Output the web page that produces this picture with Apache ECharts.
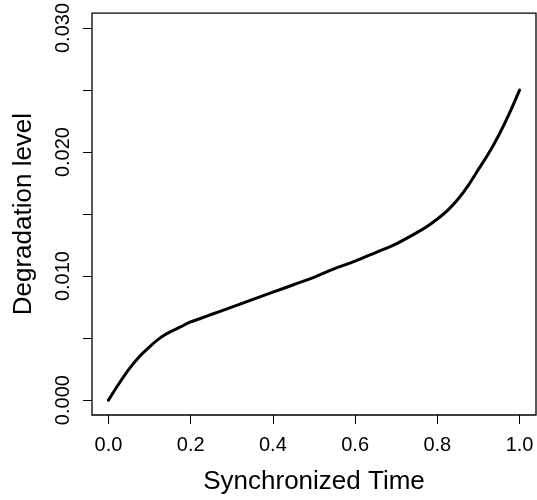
<!DOCTYPE html>
<html>
<head>
<meta charset="utf-8">
<script src="https://cdn.jsdelivr.net/npm/echarts@6/dist/echarts.min.js"></script>
<style>html,body{margin:0;padding:0;background:#fff}#c{width:537px;height:500px}</style>
</head>
<body>
<div id="c"></div>
<script>
const timeValues = [0, 0.025, 0.05, 0.075, 0.1, 0.125, 0.15, 0.175, 0.2, 0.225, 0.25, 0.3, 0.35, 0.4, 0.45, 0.5, 0.55, 0.6, 0.65, 0.7, 0.75, 0.775, 0.8, 0.825, 0.85, 0.875, 0.9, 0.925, 0.95, 0.975, 1.0];
const degradation = [0, 0.0013, 0.0025, 0.0035, 0.0043, 0.0050, 0.0055, 0.0059, 0.0063, 0.0066, 0.0069, 0.0075, 0.0081, 0.0087, 0.0093, 0.0099, 0.0106, 0.0112, 0.0119, 0.0126, 0.0135, 0.0140, 0.0146, 0.0153, 0.0162, 0.0173, 0.0186, 0.0199, 0.0214, 0.0231, 0.0250];
const xTicks = [0, 0.2, 0.4, 0.6, 0.8, 1.0];
const yTicks = [0, 0.005, 0.01, 0.015, 0.02, 0.025, 0.03];
const yLabels = [0, 0.01, 0.02, 0.03];
const xTitle = 'Synchronized Time';
const yTitle = 'Degradation level';

const font = 'Liberation Sans, Arial, sans-serif';
const chart = echarts.init(document.getElementById('c'), null, {renderer: 'canvas'});
chart.setOption({
  animation: false,
  backgroundColor: '#fff',
  grid: {left: 92, right: 1, top: 13, bottom: 85, show: true, borderColor: '#000', borderWidth: 1.3, backgroundColor: 'transparent'},
  xAxis: {
    type: 'value', min: -0.04, max: 1.04,
    name: xTitle, nameLocation: 'middle', nameGap: 54,
    nameTextStyle: {fontFamily: font, fontSize: 26, color: '#000'},
    axisLine: {show: false, onZero: false},
    splitLine: {show: false},
    axisTick: {show: true, inside: false, length: 9, customValues: xTicks, lineStyle: {color: '#000', width: 1}},
    axisLabel: {customValues: xTicks, margin: 20, fontFamily: font, fontSize: 20, color: '#000',
      formatter: v => v.toFixed(1)}
  },
  yAxis: {
    type: 'value', min: -0.0012, max: 0.0312,
    name: yTitle, nameLocation: 'middle', nameGap: 55, nameRotate: 90,
    nameTextStyle: {fontFamily: font, fontSize: 26, color: '#000'},
    axisLine: {show: false, onZero: false},
    splitLine: {show: false},
    axisTick: {show: true, inside: false, length: 9, customValues: yTicks, lineStyle: {color: '#000', width: 1}},
    axisLabel: {customValues: yLabels, rotate: 90, margin: 19, fontFamily: font, fontSize: 20, color: '#000',
      formatter: v => v.toFixed(3)}
  },
  series: [{
    type: 'line',
    data: timeValues.map((t, i) => [t, degradation[i]]),
    smooth: 0.25,
    showSymbol: false,
    lineStyle: {color: '#000', width: 3, cap: 'round'}
  }]
});
</script>
</body>
</html>
